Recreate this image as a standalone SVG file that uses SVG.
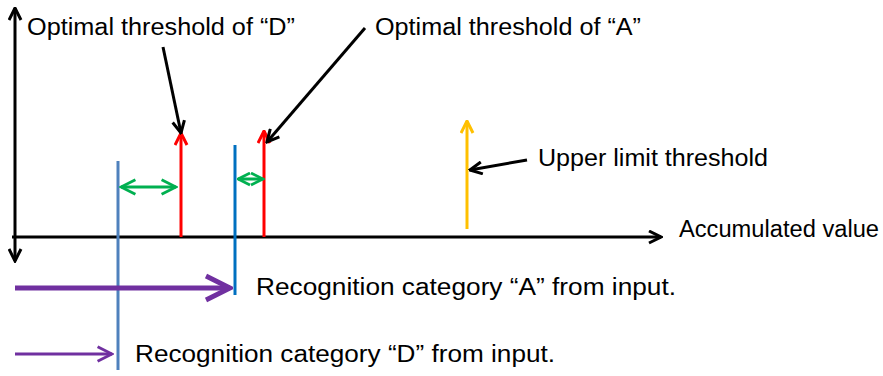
<svg xmlns="http://www.w3.org/2000/svg" width="883" height="376" viewBox="0 0 883 376">
  <defs>
    <marker id="head-black" viewBox="0 0 10 10" refX="9" refY="5" markerWidth="5" markerHeight="5" orient="auto" markerUnits="strokeWidth">
      <path d="M1,1 L9,5 L1,9" fill="none" stroke="#000" stroke-width="2"/>
    </marker>
    <marker id="head-red" viewBox="0 0 10 10" refX="9" refY="5" markerWidth="5" markerHeight="5" orient="auto" markerUnits="strokeWidth">
      <path d="M1,1 L9,5 L1,9" fill="none" stroke="#ff0000" stroke-width="2"/>
    </marker>
    <marker id="head-yellow" viewBox="0 0 10 10" refX="9" refY="5" markerWidth="5" markerHeight="5" orient="auto" markerUnits="strokeWidth">
      <path d="M1,1 L9,5 L1,9" fill="none" stroke="#ffc000" stroke-width="2"/>
    </marker>
    <marker id="head-green" viewBox="0 0 10 10" refX="9" refY="5" markerWidth="6" markerHeight="6" orient="auto-start-reverse" markerUnits="strokeWidth">
      <path d="M1,1 L9,5 L1,9" fill="none" stroke="#00b050" stroke-width="1.6"/>
    </marker>
    <marker id="head-green-s" viewBox="0 0 10 10" refX="9" refY="5" markerWidth="5" markerHeight="5" orient="auto-start-reverse" markerUnits="strokeWidth">
      <path d="M1,1 L9,5 L1,9" fill="none" stroke="#00b050" stroke-width="1.8"/>
    </marker>
    <marker id="head-purple" viewBox="0 0 10 10" refX="9" refY="5" markerWidth="6" markerHeight="6" orient="auto" markerUnits="strokeWidth">
      <path d="M1,1 L9,5 L1,9" fill="none" stroke="#7030a0" stroke-width="1.6"/>
    </marker>
  </defs>
  <style>
    text { font-family: "Liberation Sans", Arial, sans-serif; font-size: 23.5px; fill: #000; }
    .axis { stroke: #000; stroke-width: 3; fill: none; }
    .ptr { stroke: #000; stroke-width: 3; fill: none; marker-end: url(#head-black); }
    .thr { stroke: #ff0000; stroke-width: 3; fill: none; marker-end: url(#head-red); }
    .upper { stroke: #ffc000; stroke-width: 3; fill: none; marker-end: url(#head-yellow); }
    .gap { stroke: #00b050; stroke-width: 3; fill: none; marker-start: url(#head-green); marker-end: url(#head-green); }
    .gap-s { stroke: #00b050; stroke-width: 3; fill: none; marker-start: url(#head-green-s); marker-end: url(#head-green-s); }
    .input { stroke: #7030a0; fill: none; marker-end: url(#head-purple); }
  </style>

  <!-- axes -->
  <g id="axes">
    <line class="axis" x1="15" y1="237" x2="15" y2="8" marker-end="url(#head-black)"/>
    <line class="axis" x1="15" y1="237" x2="15" y2="261" marker-end="url(#head-black)"/>
    <line class="axis" x1="12" y1="237" x2="661" y2="237" marker-end="url(#head-black)"/>
    <text x="679" y="237" textLength="200" lengthAdjust="spacingAndGlyphs">Accumulated value</text>
  </g>

  <!-- recognised values from input -->
  <g id="input-D">
    <line x1="118" y1="161" x2="118" y2="370" stroke="#4f81bd" stroke-width="3"/>
    <text x="135" y="362" textLength="420" lengthAdjust="spacingAndGlyphs">Recognition category “D” from input.</text>
  </g>
  <g id="input-A">
    <line x1="235" y1="145" x2="235" y2="295" stroke="#0070c0" stroke-width="3"/>
    <text x="256" y="295" textLength="420" lengthAdjust="spacingAndGlyphs">Recognition category “A” from input.</text>
  </g>

  <!-- thresholds -->
  <g id="threshold-D">
    <line class="thr" x1="181" y1="237" x2="181" y2="133"/>
    <text x="27" y="35" textLength="268" lengthAdjust="spacingAndGlyphs">Optimal threshold of “D”</text>
  </g>
  <g id="threshold-A">
    <line class="thr" x1="264" y1="237" x2="264" y2="131"/>
    <text x="375" y="35" textLength="266" lengthAdjust="spacingAndGlyphs">Optimal threshold of “A”</text>
  </g>
  <g id="threshold-upper">
    <line class="upper" x1="467" y1="229" x2="467" y2="121"/>
    <text x="538" y="166" textLength="230" lengthAdjust="spacingAndGlyphs">Upper limit threshold</text>
  </g>

  <!-- connectors -->
  <g id="connectors">
    <line class="ptr" x1="163" y1="47" x2="181" y2="133"/>
    <line class="ptr" x1="365" y1="28" x2="267" y2="142"/>
    <line class="ptr" x1="527" y1="160" x2="470" y2="170"/>
    <line class="gap" x1="121" y1="187" x2="176" y2="187"/>
    <line class="gap-s" x1="238" y1="179" x2="263" y2="179"/>
    <line class="input" x1="15" y1="288" x2="230" y2="288" stroke-width="5"/>
    <line class="input" x1="15" y1="354" x2="112" y2="354" stroke-width="3"/>
  </g>
</svg>
